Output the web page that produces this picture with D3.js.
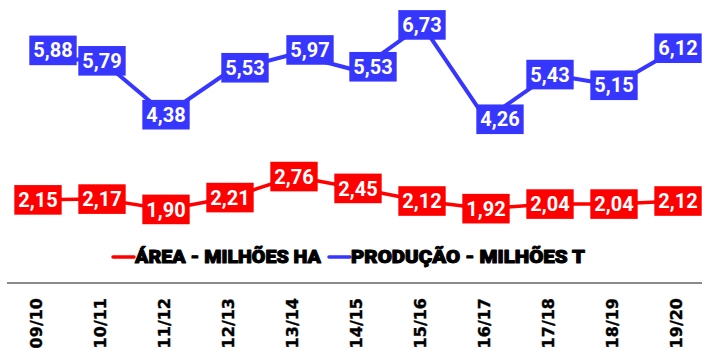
<!DOCTYPE html>
<html>
<head>
<meta charset="utf-8">
<script src="https://cdn.jsdelivr.net/npm/d3@7"></script>
<style>
  html, body { margin: 0; padding: 0; background: #fff; }
  svg { display: block; }
</style>
</head>
<body>
<svg id="chart" width="702" height="351"></svg>
<script>
// Safras 09/10 – 19/20
const seasons = ["09/10", "10/11", "11/12", "12/13", "13/14", "14/15", "15/16", "16/17", "17/18", "18/19", "19/20"];
// Área plantada (milhões de hectares)
const areaValues = [2.15, 2.17, 1.90, 2.21, 2.76, 2.45, 2.12, 1.92, 2.04, 2.04, 2.12];
// Produção (milhões de toneladas)
const prodValues = [5.88, 5.79, 4.38, 5.53, 5.97, 5.53, 6.73, 4.26, 5.43, 5.15, 6.12];
const seriesNames = ["ÁREA - MILHÕES HA", "PRODUÇÃO - MILHÕES T"];

// Small label nudges for the production series, to keep boxes off the line
const prodLabelShift = [[15, -7], [0, 0], [0, 0], [15, -3], [16, -4], [15, -4], [0, 0], [14, 0], [0, 0], [0, 0], [0, 0]];

const RED = "#ff0000";
const BLUE = "#3636ff";

const svg = d3.select("#chart");

const x = d3.scalePoint().domain(seasons).range([38, 678]);
const y = d3.scaleLinear().domain([0, 7]).range([282, 14.6]);

// Category axis along the baseline
svg.append("line")
  .attr("x1", 7).attr("x2", 702)
  .attr("y1", y(0) + 1).attr("y2", y(0) + 1)
  .attr("stroke", "#8a8a8a").attr("stroke-width", 2);

svg.append("g").selectAll("text")
  .data(seasons)
  .join("text")
  .attr("transform", d => `translate(${x(d) - 1},298) rotate(-90)`)
  .attr("text-anchor", "end")
  .attr("dy", "0.33em")
  .attr("font-family", "DejaVu Sans")
  .attr("font-weight", "bold")
  .attr("font-size", 16)
  .attr("fill", "#000")
  .attr("stroke", "#000")
  .attr("stroke-width", 0.4)
  .text(d => d);

function drawSeries(values, color, width, shifts) {
  const line = d3.line()
    .x((d, i) => x(seasons[i]))
    .y(d => y(d));
  svg.append("path")
    .datum(values)
    .attr("d", line)
    .attr("fill", "none")
    .attr("stroke", color)
    .attr("stroke-width", width)
    .attr("stroke-linejoin", "round");

  const g = svg.append("g").selectAll("g")
    .data(values)
    .join("g")
    .attr("transform", (d, i) => {
      const s = shifts ? shifts[i] : [0, 0];
      return `translate(${x(seasons[i]) + s[0]},${y(d) + s[1]})`;
    });
  g.append("rect").attr("fill", color);
  const texts = g.append("text")
    .attr("text-anchor", "middle")
    .attr("dy", "0.355em")
    .attr("font-family", "Roboto")
    .attr("font-weight", "bold")
    .attr("font-size", 20)
    .attr("fill", "#fff")
    .text(d => d.toFixed(2).replace(".", ","));
  texts.each(function () {
    const w = this.getComputedTextLength() + 8;
    d3.select(this.previousSibling)
      .attr("x", -w / 2).attr("y", -14.8)
      .attr("width", w).attr("height", 29.6);
  });
}

drawSeries(areaValues, RED, 3.5, null);
drawSeries(prodValues, BLUE, 4, prodLabelShift);

// Legend
const legend = [
  { name: seriesNames[0], color: RED, x: 113, len: 186 },
  { name: seriesNames[1], color: BLUE, x: 329, len: 234 }
];
const lg = svg.append("g").selectAll("g")
  .data(legend)
  .join("g")
  .attr("transform", d => `translate(${d.x},257)`);
lg.append("line")
  .attr("x1", 0).attr("x2", 21)
  .attr("stroke", d => d.color)
  .attr("stroke-width", 3.5)
  .attr("stroke-linecap", "round");
lg.append("text")
  .attr("x", 22)
  .attr("dy", "0.36em")
  .attr("font-family", "Roboto")
  .attr("font-weight", 900)
  .attr("font-size", 18)
  .attr("textLength", d => d.len)
  .attr("lengthAdjust", "spacingAndGlyphs")
  .attr("fill", "#000")
  .attr("stroke", "#000")
  .attr("stroke-width", 1)
  .attr("stroke-linejoin", "round")
  .text(d => d.name);
</script>
</body>
</html>
